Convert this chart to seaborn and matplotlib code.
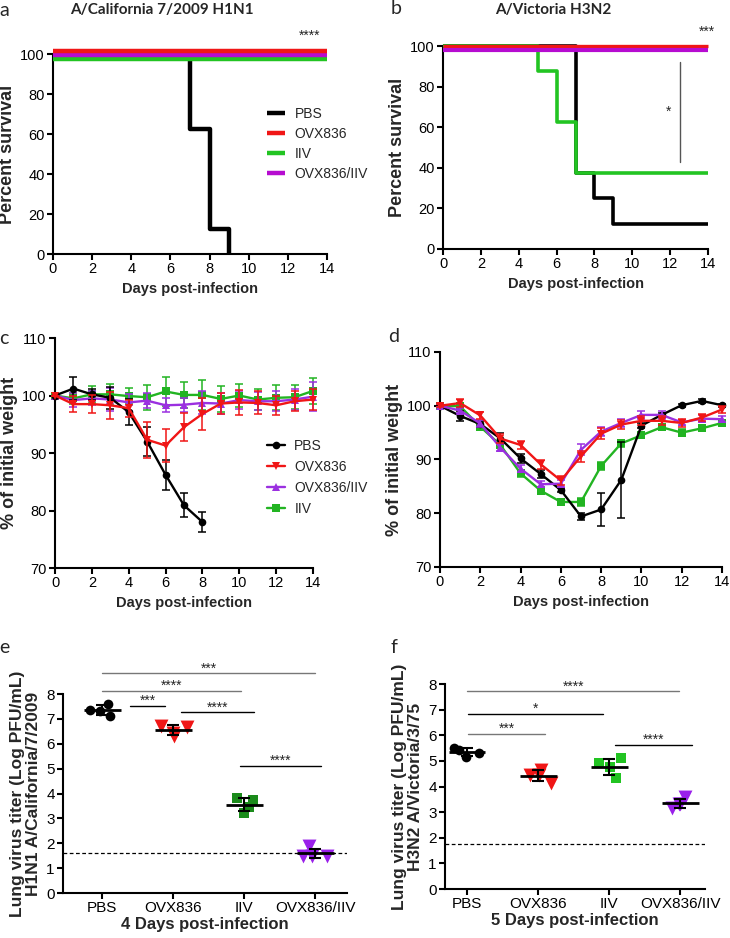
import numpy as np
import pandas as pd
import matplotlib
matplotlib.use("Agg")
import matplotlib.pyplot as plt
import seaborn as sns

# ---------------- data ----------------
groups = ["PBS", "OVX836", "IIV", "OVX836/IIV"]

# a: survival, A/California H1N1 (day, % survival)
a_pbs_days = [0, 7, 8, 9]
a_pbs_surv = [100, 62.5, 12.5, 0]
a_ovx_days = [0, 14]
a_ovx_surv = [100, 100]
a_iiv_days = [0, 14]
a_iiv_surv = [100, 100]
a_combo_days = [0, 14]
a_combo_surv = [100, 100]

# b: survival, A/Victoria H3N2
b_pbs_days = [0, 7, 8, 9, 14]
b_pbs_surv = [100, 37.5, 25, 12.5, 12.5]
b_ovx_days = [0, 14]
b_ovx_surv = [100, 100]
b_iiv_days = [0, 5, 6, 7, 14]
b_iiv_surv = [100, 87.5, 62.5, 37.5, 37.5]
b_combo_days = [0, 14]
b_combo_surv = [100, 100]

# c: weight, H1N1 (mean, SEM)
days = list(range(15))
c_pbs_days = list(range(9))
c_pbs_mean = [100, 101.2, 100.2, 99.6, 97.1, 92.0, 86.2, 80.9, 78.0]
c_pbs_err = [0, 2.0, 1.0, 1.9, 2.3, 2.6, 2.6, 2.1, 1.7]
c_ovx_mean = [100, 98.5, 98.5, 98.3, 97.8, 92.3, 91.3, 94.5, 96.8, 98.6, 98.8, 98.7, 98.3, 99.0, 99.3]
c_ovx_err = [0, 1.4, 1.6, 2.3, 1.5, 3.1, 2.9, 2.4, 2.8, 1.8, 2.2, 2.0, 1.7, 1.7, 1.8]
c_combo_mean = [100, 99.2, 99.5, 99.3, 98.8, 99.1, 98.3, 98.4, 98.7, 98.6, 99.2, 99.0, 99.0, 99.3, 99.8]
c_combo_err = [0, 1.2, 1.2, 2.0, 1.5, 1.3, 1.2, 1.2, 2.0, 1.8, 1.5, 1.6, 1.7, 1.8, 2.5]
c_iiv_mean = [100, 99.5, 100.2, 100.2, 99.9, 99.7, 100.7, 100.1, 100.1, 99.4, 100.0, 99.3, 99.6, 99.7, 100.8]
c_iiv_err = [0, 1.0, 1.5, 1.8, 1.4, 2.2, 2.5, 2.2, 2.6, 2.2, 2.0, 1.8, 2.2, 2.1, 2.3]

# d: weight, H3N2 (mean, SEM)
d_pbs_mean = [100, 98.1, 96.6, 93.9, 90.2, 87.3, 84.3, 79.4, 80.7, 86.2, 96.3, 98.3, 100.1, 100.9, 100.1]
d_pbs_err = [0, 1.0, 0.6, 1.0, 0.8, 0.7, 0.4, 0.7, 3.0, 7.0, 0.4, 0.3, 0.3, 0.3, 0.3]
d_ovx_mean = [100, 100.5, 98.2, 93.9, 92.7, 89.1, 86.1, 90.6, 94.8, 96.5, 97.2, 97.2, 96.8, 97.8, 99.3]
d_ovx_err = [0.3, 0.7, 0.6, 0.8, 0.8, 0.8, 0.9, 1.0, 1.0, 0.9, 0.8, 0.8, 0.7, 0.7, 0.7]
d_combo_mean = [100, 99.1, 96.7, 92.2, 88.3, 85.4, 85.5, 91.8, 95.2, 96.8, 98.3, 98.3, 96.9, 97.6, 97.5]
d_combo_err = [0.3, 0.5, 0.6, 0.6, 0.6, 0.6, 0.6, 1.0, 0.8, 0.8, 0.8, 0.7, 0.5, 0.6, 0.5]
d_iiv_mean = [100, 99.9, 96.1, 92.7, 87.4, 84.2, 82.1, 82.1, 88.8, 93.0, 94.5, 96.0, 95.0, 95.8, 96.8]
d_iiv_err = [0.3, 0.5, 0.6, 0.6, 0.7, 0.7, 0.6, 0.8, 0.8, 0.6, 0.5, 0.5, 0.7, 0.5, 0.5]

# e: lung titers, H1N1 day 4 (log PFU/mL)
e_pbs = [7.36, 7.13, 7.30, 7.60]
e_ovx = [6.68, 6.30, 6.45, 6.72]
e_iiv = [3.80, 3.22, 3.45, 3.75]
e_combo = [1.50, 1.50, 1.88, 1.50]
e_lod = 1.59
e_sig_y = [8.83, 8.13, 7.52, 7.26, 5.10]
e_sig_from = [0, 0, 0.39, 1.11, 1.94]
e_sig_to = [3, 1.95, 0.89, 2.14, 3.08]
e_sig_text = ["***", "****", "***", "****", "****"]

# f: lung titers, H3N2 day 5
f_pbs = [5.41, 5.17, 5.30, 5.52]
f_ovx = [4.65, 4.15, 4.45, 4.45]
f_iiv = [5.10, 4.90, 4.75, 4.35]
f_combo = [3.60, 3.30, 3.15, 3.30]
f_lod = 1.77
f_sig_y = [7.71, 6.83, 6.05, 5.62]
f_sig_from = [0, 0.01, 0.01, 2.09]
f_sig_to = [2.99, 1.92, 1.10, 3.17]
f_sig_text = ["****", "*", "***", "****"]

# ---------------- style ----------------
sns.set_style("ticks")
plt.rcParams["font.family"] = ["Liberation Sans", "DejaVu Sans"]
plt.rcParams["axes.linewidth"] = 1.5
plt.rcParams["xtick.major.width"] = 1.5
plt.rcParams["ytick.major.width"] = 1.5
plt.rcParams["xtick.major.size"] = 4
plt.rcParams["ytick.major.size"] = 4
plt.rcParams["xtick.color"] = "black"
plt.rcParams["ytick.color"] = "black"
plt.rcParams["axes.edgecolor"] = "black"

RED = "#f01616"
GREEN_A = "#22c422"
MAG_A = "#b60cd0"
PURP_C = "#9b30e0"
GREEN_C = "#22b422"
GREEN_E = "#1b8b1b"
GREEN_F = "#22c422"
PURP_E = "#9a20ea"

W, H = 730, 938
fig = plt.figure(figsize=(W / 100, H / 100), dpi=100)


def add_ax(l, r, t, b):
    return fig.add_axes([l / W, 1 - b / H, (r - l) / W, (b - t) / H])


axA = add_ax(53, 327, 54, 254)
axB = add_ax(443, 708, 46, 249)
axC = add_ax(55, 313, 338, 568)
axD = add_ax(440, 722, 352, 567)
axE = add_ax(63, 347, 694, 893)
axF = add_ax(445, 705, 684, 889)

LBL_FONT = ["Lato", "DejaVu Sans"]


def style_ax(ax, tick_fs):
    sns.despine(ax=ax)
    ax.tick_params(labelsize=tick_fs, direction="out", pad=2)
    ax.grid(False)


# ---------------- survival panels ----------------
def survival(ax, curves, offsets, lws, order):
    for g in order:
        d, s = curves[g]
        y = np.asarray(s, float) + offsets[g]
        sns.lineplot(x=d, y=y, ax=ax, color=curves_col[g], lw=lws[g], drawstyle="steps-post",
                     errorbar=None, clip_on=False, label=g, sort=False,
                     solid_capstyle="butt", zorder=3)
    ax.set_xlim(0, 14)
    ax.set_ylim(0, 100)
    ax.set_xticks(range(0, 15, 2))
    ax.set_yticks(range(0, 101, 20))
    ax.set_xlabel("Days post-infection", fontsize=10.5, fontweight="bold")
    ax.set_ylabel("Percent survival", fontsize=13, fontweight="bold", labelpad=3)
    style_ax(ax, 10.5)


curves_col = {"PBS": "black", "OVX836": RED, "IIV": GREEN_A, "OVX836/IIV": MAG_A}
survival(axA,
         {"PBS": (a_pbs_days, a_pbs_surv), "OVX836": (a_ovx_days, a_ovx_surv),
          "IIV": (a_iiv_days, a_iiv_surv), "OVX836/IIV": (a_combo_days, a_combo_surv)},
         {"PBS": 0, "OVX836": 1.7, "IIV": -2.7, "OVX836/IIV": -0.3},
         {"PBS": 3.2, "OVX836": 3.2, "IIV": 3.2, "OVX836/IIV": 3.2},
         ["PBS", "IIV", "OVX836/IIV", "OVX836"])
hA, lA = axA.get_legend_handles_labels()
hmap = dict(zip(lA, hA))
axA.legend([hmap[g] for g in groups], groups, loc="upper left", bbox_to_anchor=(0.78, 0.735),
           frameon=False, fontsize=10, borderpad=0, borderaxespad=0, handlelength=1.3,
           handletextpad=0.7, labelspacing=0.42)
axA.text(13.1, 107, "****", ha="center", va="baseline", fontsize=10, clip_on=False)

survival(axB,
         {"PBS": (b_pbs_days, b_pbs_surv), "OVX836": (b_ovx_days, b_ovx_surv),
          "IIV": (b_iiv_days, b_iiv_surv), "OVX836/IIV": (b_combo_days, b_combo_surv)},
         {"PBS": 0, "OVX836": 0.2, "IIV": 0, "OVX836/IIV": -1.8},
         {"PBS": 2.6, "OVX836": 2.4, "IIV": 2.6, "OVX836/IIV": 3.0},
         ["PBS", "IIV", "OVX836", "OVX836/IIV"])
axB.get_legend().remove()
axB.plot([12.5, 12.5], [42.8, 92.3], color="#555555", lw=1)
axB.text(11.9, 65.5, "*", ha="center", va="baseline", fontsize=10)
axB.text(13.93, 104.9, "***", ha="center", va="baseline", fontsize=10, clip_on=False)

# ---------------- weight panels ----------------
wcol = {"PBS": "black", "OVX836": RED, "OVX836/IIV": PURP_C, "IIV": GREEN_C}
wmk = {"PBS": "o", "OVX836": "v", "OVX836/IIV": "^", "IIV": "s"}
wms = {"PBS": 5.5, "OVX836": 5.5, "OVX836/IIV": 5.5, "IIV": 5.5}


def weight(ax, series, order, zord, tick_fs):
    for g in order:
        d, m, e = series[g]
        sns.lineplot(x=d, y=m, ax=ax, color=wcol[g], marker=wmk[g], markersize=wms[g],
                     markeredgewidth=0, lw=1.7, errorbar=None, label=g, zorder=zord[g],
                     clip_on=False, sort=False)
        ax.errorbar(d, m, yerr=e, fmt="none", ecolor=wcol[g], elinewidth=1.1, capsize=3,
                    capthick=1.1, zorder=zord[g], clip_on=False)
    ax.set_xlim(0, 14)
    ax.set_ylim(70, 110)
    ax.set_xticks(range(0, 15, 2))
    ax.set_yticks(range(70, 111, 10))
    ax.set_xlabel("Days post-infection", fontsize=10.5, fontweight="bold")
    ax.set_ylabel("% of initial weight", fontsize=13, fontweight="bold", labelpad=3)
    style_ax(ax, tick_fs)


zord = {"IIV": 3, "OVX836/IIV": 4, "PBS": 5, "OVX836": 6}
weight(axC, {"PBS": (c_pbs_days, c_pbs_mean, c_pbs_err), "OVX836": (days, c_ovx_mean, c_ovx_err),
             "OVX836/IIV": (days, c_combo_mean, c_combo_err), "IIV": (days, c_iiv_mean, c_iiv_err)},
       ["IIV", "OVX836/IIV", "PBS", "OVX836"], zord, 10.5)
hC, lC = axC.get_legend_handles_labels()
hmap = dict(zip(lC, hC))
leg_order = ["PBS", "OVX836", "OVX836/IIV", "IIV"]
axC.legend([hmap[g] for g in leg_order], leg_order, loc="upper left", bbox_to_anchor=(0.82, 0.56),
           frameon=False, fontsize=10, borderpad=0, borderaxespad=0, handlelength=1.3,
           handletextpad=0.7, labelspacing=0.5)

zordD = {"IIV": 3, "PBS": 4, "OVX836/IIV": 5, "OVX836": 6}
weight(axD, {"PBS": (days, d_pbs_mean, d_pbs_err), "OVX836": (days, d_ovx_mean, d_ovx_err),
             "OVX836/IIV": (days, d_combo_mean, d_combo_err), "IIV": (days, d_iiv_mean, d_iiv_err)},
       ["IIV", "OVX836/IIV", "PBS", "OVX836"], zordD, 10.5)
axD.get_legend().remove()

# ---------------- titer panels ----------------
np.random.seed(7)


def titer(ax, pts, cols, mks, sizes, lod, sig, xlim, ylab, xlab):
    for i, g in enumerate(groups):
        vals = pts[g]
        sns.stripplot(x=[g] * len(vals), y=vals, order=groups, ax=ax, color=cols[g],
                      marker=mks[g], size=sizes[g], linewidth=0, jitter=0.2, zorder=3)
        m = np.mean(vals)
        sd = np.std(vals, ddof=1)
        ax.hlines(m, i - 0.26, i + 0.26, color="black", lw=2, zorder=5)
        ax.errorbar(i, m, yerr=sd, fmt="none", ecolor="black", elinewidth=1.5, capsize=4.5,
                    capthick=1.5, zorder=5)
    ax.axhline(lod, color="black", lw=0.9, ls=(0, (3, 2)), zorder=1)
    ys, x0s, x1s, txts, lcols = sig
    for y, x0, x1, t, c in zip(ys, x0s, x1s, txts, lcols):
        ax.plot([x0, x1], [y, y], color=c, lw=1, clip_on=False)
        ax.text((x0 + x1) / 2, y + 0.04, t, ha="center", va="baseline", fontsize=10,
                clip_on=False)
    ax.set_xlim(*xlim)
    ax.set_ylim(0, 8)
    ax.set_yticks(range(0, 9))
    ax.set_ylabel(ylab, fontsize=12.5, fontweight="bold", linespacing=1.05, labelpad=4)
    ax.set_xlabel(xlab, fontsize=12, fontweight="bold", labelpad=1)
    style_ax(ax, 11)


mks = {"PBS": "o", "OVX836": "v", "IIV": "s", "OVX836/IIV": "v"}
sizes = {"PBS": 7, "OVX836": 10, "IIV": 7.5, "OVX836/IIV": 10}
titer(axE, {"PBS": e_pbs, "OVX836": e_ovx, "IIV": e_iiv, "OVX836/IIV": e_combo},
      {"PBS": "black", "OVX836": RED, "IIV": GREEN_E, "OVX836/IIV": PURP_E}, mks, sizes, e_lod,
      (e_sig_y, e_sig_from, e_sig_to, e_sig_text, ["#777777", "#777777", "black", "black", "black"]),
      (-0.55, 3.45), "Lung virus titer (Log PFU/mL)\nH1N1 A/California/7/2009",
      "4 Days post-infection")
titer(axF, {"PBS": f_pbs, "OVX836": f_ovx, "IIV": f_iiv, "OVX836/IIV": f_combo},
      {"PBS": "black", "OVX836": RED, "IIV": GREEN_F, "OVX836/IIV": PURP_E}, mks, sizes, f_lod,
      (f_sig_y, f_sig_from, f_sig_to, f_sig_text, ["#777777", "black", "#777777", "black"]),
      (-0.31, 3.35), "Lung virus titer (Log PFU/mL)\nH3N2 A/Victoria/3/75",
      "5 Days post-infection")

# ---------------- titles and panel letters ----------------
fig.text(162 / W, 1 - 10 / H, "A/California 7/2009 H1N1", ha="center", va="center",
         fontsize=11, fontweight="bold", family=LBL_FONT)
fig.text(553 / W, 1 - 10 / H, "A/Victoria H3N2", ha="center", va="center",
         fontsize=11, fontweight="bold", family=LBL_FONT)
for lab, x, y in [("a", 4, 10), ("b", 396, 9), ("c", 4, 338), ("d", 394, 337),
                  ("e", 4, 647), ("f", 394, 647)]:
    fig.text(x / W, 1 - y / H, lab, ha="center", va="center", fontsize=14, family=LBL_FONT)

fig.savefig("out.png", dpi=100)
